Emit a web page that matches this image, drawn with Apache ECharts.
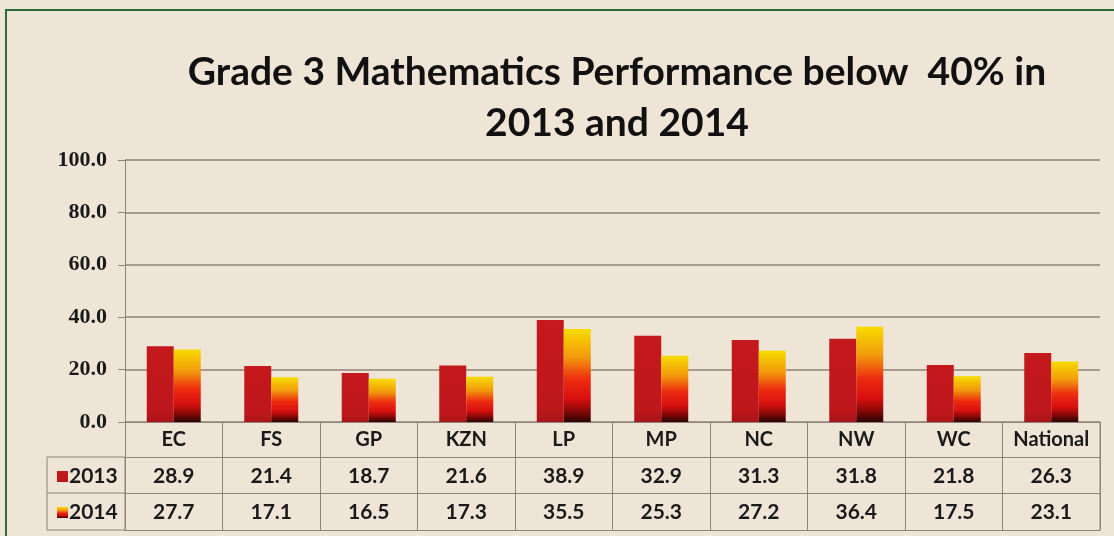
<!DOCTYPE html>
<html style="height: 100%">
<head>
    <meta charset="utf-8">
    <title>Grade 3 Mathematics</title>
    <script src="https://cdn.jsdelivr.net/npm/echarts@6/dist/echarts.min.js"></script>
</head>
<body style="height: 100%; margin: 0; background: #EEE5D6">
<div id="main" style="width: 1114px; height: 536px"></div>

<script type="text/javascript">
    // data
    var provinces = ['EC', 'FS', 'GP', 'KZN', 'LP', 'MP', 'NC', 'NW', 'WC', 'National'];
    var values2013 = [28.9, 21.4, 18.7, 21.6, 38.9, 32.9, 31.3, 31.8, 21.8, 26.3];
    var values2014 = [27.7, 17.1, 16.5, 17.3, 35.5, 25.3, 27.2, 36.4, 17.5, 23.1];
    var yTicks = [0, 20, 40, 60, 80, 100];

    var lineColor = '#8F827A';
    var textColor = '#1a1a1a';

    var myChart = echarts.init(document.getElementById('main'));

    var red2013 = new echarts.graphic.LinearGradient(0, 0, 0, 1, [
        {offset: 0, color: '#C4191D'},
        {offset: 0.85, color: '#BE171B'},
        {offset: 1, color: '#A81418'}
    ]);
    var fire2014 = new echarts.graphic.LinearGradient(0, 0, 0, 1, [
        {offset: 0, color: '#F7DC00'},
        {offset: 0.3, color: '#F29A0C'},
        {offset: 0.55, color: '#EC2A10'},
        {offset: 0.75, color: '#D81010'},
        {offset: 0.88, color: '#8A0808'},
        {offset: 1, color: '#2A0303'}
    ]);

    function tableLabel(value, index) {
        return '{c|' + value + '}\n{v|' + values2013[index].toFixed(1) + '}\n{v|' + values2014[index].toFixed(1) + '}';
    }

    function rowAxis(offset) {
        return {
            type: 'category',
            data: provinces,
            position: 'bottom',
            offset: offset,
            axisLine: {show: true, lineStyle: {color: lineColor, width: 1}},
            axisTick: {show: false},
            axisLabel: {show: false},
            splitLine: {show: false}
        };
    }

    var option = {
        backgroundColor: '#EEE5D6',
        title: {
            text: 'Grade 3 Mathematics Performance below  40% in\n2013 and 2014',
            left: 612,
            textAlign: 'center',
            top: 42,
            textStyle: {
                fontFamily: 'Lato',
                fontWeight: 'bold',
                fontSize: 39,
                lineHeight: 51,
                color: '#111'
            }
        },
        legend: {
            orient: 'vertical',
            left: 52,
            top: 461,
            itemWidth: 11,
            itemHeight: 11,
            itemGap: 15,
            icon: 'rect',
            data: ['2013', '2014'],
            textStyle: {fontFamily: 'Lato', fontWeight: 'bold', fontSize: 21, color: textColor, padding: [0, 0, 0, -4]}
        },
        grid: {left: 125, right: 14, top: 160, bottom: 114},
        xAxis: [
            {
                type: 'category',
                data: provinces,
                axisLine: {show: true, lineStyle: {color: lineColor}},
                axisTick: {show: true, alignWithLabel: false, length: 108, lineStyle: {color: lineColor}},
                axisLabel: {
                    interval: 0,
                    margin: 0,
                    formatter: tableLabel,
                    rich: {
                        c: {fontFamily: 'Lato', fontWeight: 'bold', fontSize: 20, lineHeight: 36, color: textColor},
                        v: {fontFamily: 'Lato', fontWeight: 'bold', fontSize: 21, lineHeight: 36, color: textColor}
                    }
                }
            },
            rowAxis(35),
            rowAxis(71),
            rowAxis(108)
        ],
        yAxis: {
            type: 'value',
            min: yTicks[0],
            max: yTicks[yTicks.length - 1],
            interval: 20,
            axisLine: {show: true, lineStyle: {color: lineColor}},
            axisTick: {show: true, length: 7, lineStyle: {color: lineColor}},
            axisLabel: {
                margin: 18,
                formatter: function (v) { return v.toFixed(1); },
                fontFamily: 'Liberation Serif',
                fontWeight: 'bold',
                fontSize: 22,
                color: textColor
            },
            splitLine: {show: true, lineStyle: {color: lineColor, width: 1.5}}
        },
        series: [
            {
                name: '2013',
                type: 'bar',
                data: values2013,
                barWidth: 27,
                barGap: '0%',
                itemStyle: {color: red2013}
            },
            {
                name: '2014',
                type: 'bar',
                data: values2014,
                barWidth: 27,
                barGap: '0%',
                itemStyle: {color: fire2014}
            }
        ],
        graphic: [
            {
                type: 'rect',
                shape: {x: 6, y: 10, width: 1120, height: 540},
                style: {fill: 'none', stroke: '#2E6B3A', lineWidth: 2}
            },
            {
                type: 'rect',
                shape: {x: 47, y: 457, width: 78, height: 73},
                style: {fill: 'none', stroke: lineColor, lineWidth: 1}
            },
            {
                type: 'line',
                shape: {x1: 47, y1: 493, x2: 125, y2: 493},
                style: {stroke: lineColor, lineWidth: 1}
            },
            {
                type: 'line',
                shape: {x1: 1100, y1: 422, x2: 1100, y2: 530},
                style: {stroke: lineColor, lineWidth: 1}
            }
        ]
    };
    myChart.setOption(option);
</script>
</body>
</html>
